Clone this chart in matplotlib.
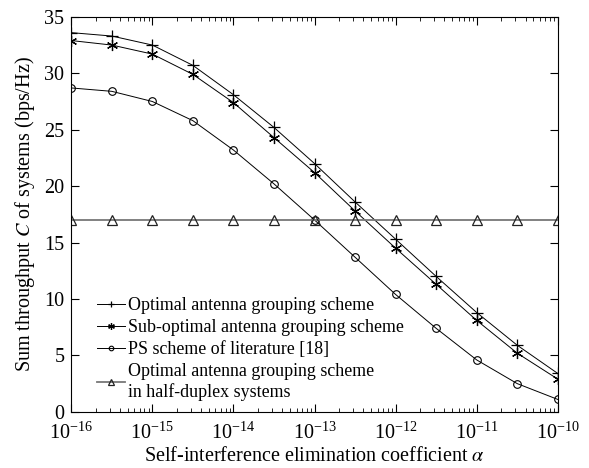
import matplotlib
matplotlib.use("Agg")
import matplotlib.pyplot as plt
import numpy as np

plt.rcParams['font.family'] = 'Liberation Serif'
plt.rcParams['mathtext.fontset'] = 'stix'

# exponent of alpha, half-decade steps from 1e-16 to 1e-10
exponentes = [-16, -15.5, -15, -14.5, -14, -13.5, -13, -12.5, -12, -11.5, -11, -10.5, -10]
alpha = [10.0 ** e for e in exponentes]

optimo = [33.6, 33.3, 32.5, 30.7, 28.1, 25.2, 22.0, 18.6, 15.3, 12.0, 8.8, 5.9, 3.4]
suboptimo = [32.9, 32.5, 31.7, 29.9, 27.4, 24.3, 21.2, 17.8, 14.5, 11.3, 8.1, 5.2, 2.9]
ps_lit = [28.7, 28.4, 27.5, 25.8, 23.2, 20.2, 17.0, 13.7, 10.4, 7.4, 4.6, 2.5, 1.1]
half_duplex = [17.0] * 13

etiquetas = ['Optimal antenna grouping scheme',
             'Sub-optimal antenna grouping scheme',
             'PS scheme of literature [18]',
             'Optimal antenna grouping scheme\nin half-duplex systems']

fig, ax = plt.subplots(figsize=(5.89, 4.68), dpi=100)
fig.subplots_adjust(left=0.121, right=0.947, top=0.964, bottom=0.120)

ax.plot(alpha, optimo, color='black', lw=0.7, marker='+', ms=8, mew=0.9, label=etiquetas[0])
ax.plot(alpha, suboptimo, color='black', lw=0.7, marker=(6, 2, 0), ms=8, mew=0.9,
        label=etiquetas[1])
ax.plot(alpha, ps_lit, color='black', lw=0.7, marker='o', ms=5.5, mew=0.8,
        mfc='none', label=etiquetas[2])
ax.plot(alpha, half_duplex, color='#777777', lw=1.3, marker='^', ms=6.5, mew=0.9,
        mfc='none', mec='#222222', label=etiquetas[3])

ax.set_xscale('log')
ax.set_xlim(1e-16, 1e-10)
ax.set_ylim(0, 35)
ax.set_yticks(np.arange(0, 36, 5))
ax.set_xticks([1e-16, 1e-15, 1e-14, 1e-13, 1e-12, 1e-11, 1e-10])
ax.tick_params(which='both', direction='in', top=True, right=True, labelsize=14.5)
ax.tick_params(which='major', length=5.5)
ax.tick_params(which='minor', length=3)
ax.tick_params(axis='x', which='major', pad=8)
ax.tick_params(axis='y', which='major', pad=5)

ax.set_xlabel(r'Self-interference elimination coefficient $\alpha$', fontsize=14.5, labelpad=2)
ax.set_ylabel(r'Sum throughput $C$ of systems (bps/Hz)', fontsize=14.5, labelpad=5)

ax.legend(loc='lower left', frameon=False, fontsize=12.9, handlelength=1.6,
          handletextpad=0.15, labelspacing=0.28, borderaxespad=0.2, markerscale=0.6,
          bbox_to_anchor=(0.03, 0.0))

fig.savefig('out.png', dpi=100)
